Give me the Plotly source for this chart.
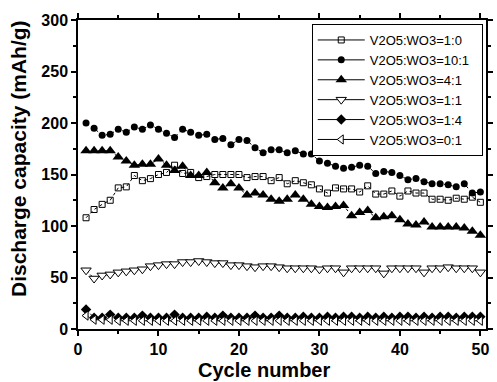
import plotly.graph_objects as go

cycles = list(range(1, 51))

cap_1_0 = [108, 116, 121, 125, 137, 138, 149, 144, 146, 150,
           152, 159, 151, 152, 147, 148, 150, 150, 150, 150,
           147, 148, 148, 144, 147, 141, 144, 142, 140, 136,
           132, 137, 136, 136, 133, 139, 131, 131, 134, 129,
           134, 132, 132, 126, 126, 125, 127, 126, 128, 123]

cap_10_1 = [200, 195, 188, 189, 194, 191, 196, 194, 198, 194,
            190, 186, 194, 191, 188, 189, 184, 185, 179, 184,
            183, 176, 171, 174, 174, 171, 173, 170, 170, 163,
            161, 158, 156, 157, 159, 158, 151, 153, 152, 149,
            145, 146, 143, 141, 141, 140, 138, 141, 132, 133]

cap_4_1 = [173, 173, 173, 173, 167, 163, 159, 160, 160, 165,
           159, 154, 158, 149, 149, 152, 142, 137, 141, 137,
           130, 132, 130, 126, 124, 126, 130, 126, 121, 119,
           118, 119, 120, 110, 113, 115, 108, 109, 110, 106,
           102, 101, 104, 99, 99, 99, 99, 98, 95, 91]

cap_1_1 = [57, 49, 52, 53, 55, 56, 57, 58, 61, 62,
           63, 63, 65, 65, 66, 65, 64, 64, 62, 62,
           61, 60, 61, 61, 60, 59, 59, 59, 59, 58,
           59, 59, 55, 59, 59, 59, 59, 54, 59, 59,
           59, 59, 55, 59, 59, 60, 59, 59, 59, 55]

cap_1_4 = [19, 11, 11, 14, 11, 11, 11, 13, 11, 11,
           11, 14, 11, 11, 11, 12, 11, 13, 11, 11,
           11, 13, 11, 11, 13, 11, 11, 12, 11, 11,
           12, 11, 12, 12, 11, 12, 11, 12, 11, 12,
           12, 11, 12, 11, 12, 12, 11, 12, 12, 12]

cap_0_1 = [13, 9, 9, 9, 8, 8, 8, 8, 8, 8,
           8, 8, 8, 8, 8, 8, 8, 8, 8, 8,
           8, 8, 8, 8, 8, 8, 8, 8, 8, 8,
           8, 8, 8, 8, 8, 8, 8, 8, 8, 8,
           8, 8, 8, 8, 8, 8, 8, 8, 8, 8]

labels = ["V2O5:WO3=1:0", "V2O5:WO3=10:1", "V2O5:WO3=4:1",
          "V2O5:WO3=1:1", "V2O5:WO3=1:4", "V2O5:WO3=0:1"]

series = [cap_1_0, cap_10_1, cap_4_1, cap_1_1, cap_1_4, cap_0_1]

marker_styles = [
    dict(symbol="square-open", size=6, color="black", line=dict(width=1, color="black")),
    dict(symbol="circle", size=7, color="black"),
    dict(symbol="triangle-up", size=10, color="black"),
    dict(symbol="triangle-down", size=9, color="white", line=dict(width=1, color="black")),
    dict(symbol="diamond", size=8, color="black"),
    dict(symbol="triangle-left", size=8, color="white", line=dict(width=1, color="black")),
]

fig = go.Figure()

# data traces: markers joined by thin dotted lines
for name, vals, mk in zip(labels, series, marker_styles):
    fig.add_trace(go.Scatter(
        x=cycles, y=vals, mode="lines+markers", name=name,
        line=dict(color="black", width=1, dash="dot"),
        marker=mk, showlegend=False, cliponaxis=False,
    ))

# legend entries drawn with solid lines (trailing nbsp pads the box on the right)
for name, mk in zip(labels, marker_styles):
    fig.add_trace(go.Scatter(
        x=[None], y=[None], mode="lines+markers", name=name + "\u00a0\u00a0",
        line=dict(color="black", width=1),
        marker=mk, showlegend=True,
    ))

axis_common = dict(
    showline=True, linecolor="black", linewidth=1.5, mirror="ticks",
    ticks="outside", ticklen=5, tickwidth=1.5, tickcolor="black",
    showgrid=False, zeroline=False,
    tickfont=dict(family="Liberation Sans, Arial, sans-serif", size=16, color="black", weight="bold"),
)

fig.update_xaxes(
    range=[0, 50.7], tickmode="array", tickvals=[0, 10, 20, 30, 40, 50],
    minor=dict(tickvals=[5, 15, 25, 35, 45], ticks="outside", ticklen=3,
               tickwidth=1.5, tickcolor="black"),
    **axis_common,
)
fig.update_yaxes(
    range=[0, 300], tickmode="array", tickvals=[0, 50, 100, 150, 200, 250, 300],
    minor=dict(tickvals=[25, 75, 125, 175, 225, 275], ticks="outside", ticklen=3,
               tickwidth=1.5, tickcolor="black"),
    **axis_common,
)

title_font = dict(family="Liberation Sans, Arial, sans-serif", size=20, color="black", weight="bold")

fig.update_layout(
    width=497, height=382,
    margin=dict(l=78, r=4, t=20, b=53),
    paper_bgcolor="white", plot_bgcolor="white",
    legend=dict(
        x=0.992, y=0.987, xanchor="right", yanchor="top",
        bgcolor="white", bordercolor="black", borderwidth=1,
        font=dict(family="Liberation Sans, Arial, sans-serif", size=13, color="black"),
        itemwidth=47, tracegroupgap=0,
    ),
    annotations=[
        dict(text="Cycle number", xref="paper", yref="paper",
             x=(267.5 - 78) / 415, y=-(370 - 329) / 309,
             xanchor="center", yanchor="middle", showarrow=False, font=title_font),
        dict(text="Discharge capacity (mAh/g)", xref="paper", yref="paper",
             x=-(78 - 17) / 415, y=(329 - 159) / 309, textangle=-90,
             xanchor="center", yanchor="middle", showarrow=False,
             font=dict(title_font, size=21)),
    ],
)

fig.write_html("out.html")
